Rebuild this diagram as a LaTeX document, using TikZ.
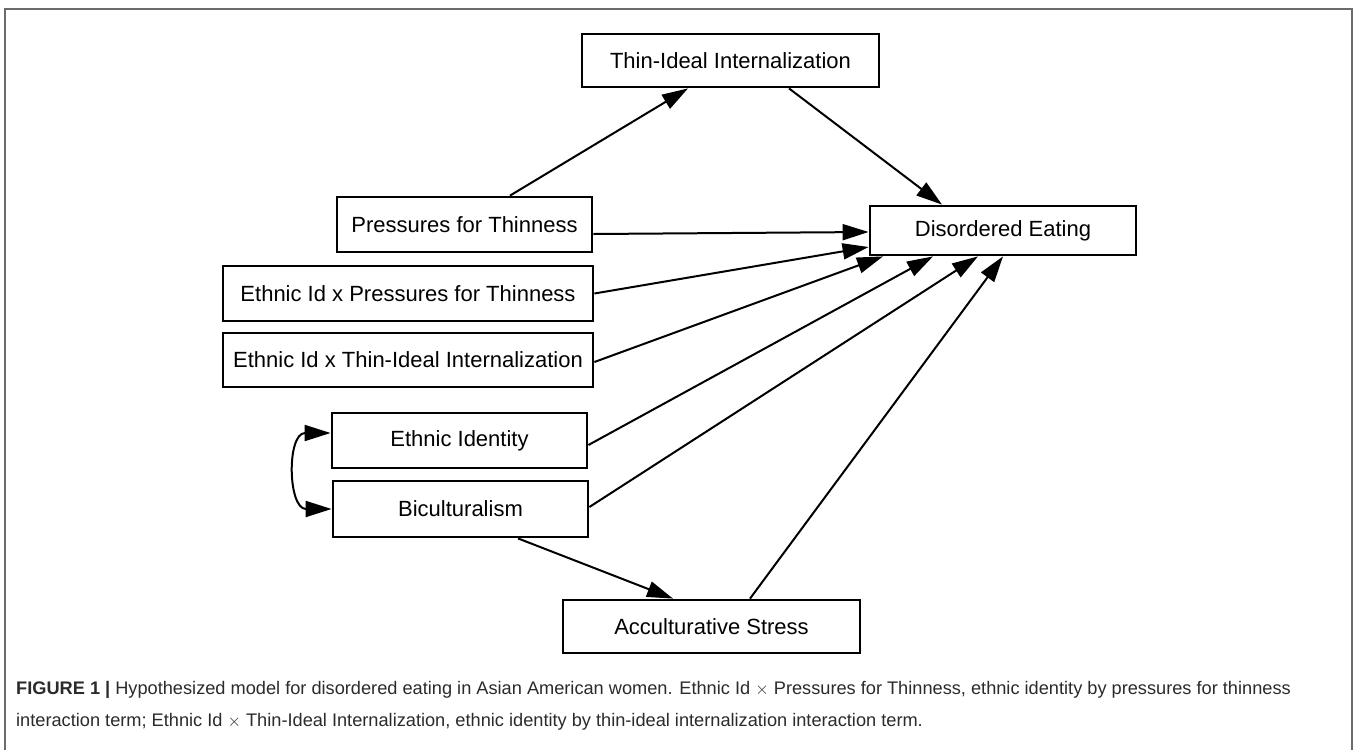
\documentclass[tikz,border=0pt]{standalone}
\usepackage{fontspec}
\setmainfont{Liberation Sans}
\usetikzlibrary{arrows.meta}
\definecolor{framegray}{HTML}{6B6B6B}
\definecolor{capgray}{HTML}{2B2B2B}
\begin{document}
\begin{tikzpicture}[x=1pt,y=-1pt,
  box/.style={draw=black, line width=2.8pt, rectangle, inner sep=0pt,
    font=\fontsize{22}{26}\selectfont, text=black},
  conn/.style={line width=2pt, draw=black, -{Triangle[length=26pt,width=16pt]}},
  dconn/.style={line width=2pt, draw=black, {Triangle[length=26pt,width=16pt]}-{Triangle[length=26pt,width=16pt]}},
  captext/.style={anchor=base west, inner sep=0pt, text=capgray,
    font=\fontsize{18.2}{21}\selectfont},
  ]
\useasboundingbox (0,0) rectangle (1357,750);
\fill[white] (0,0) rectangle (1357,750);
% outer frame (open at the bottom)
\draw[framegray, line width=2pt] (5,750) -- (5,8.5) -- (1351.5,8.5) -- (1351.5,750);

% nodes
\node[box, minimum width=297pt, minimum height=53pt] (thin) at (730.5,60.5) {Thin-Ideal Internalization};
\node[box, minimum width=266pt, minimum height=49pt] (de) at (1003,230.5) {Disordered Eating};
\node[box, minimum width=255pt, minimum height=55pt] (press) at (464.5,224.5) {Pressures for Thinness};
\node[box, minimum width=370pt, minimum height=55pt] (eipt) at (408,293.5) {Ethnic Id x Pressures for Thinness};
\node[box, minimum width=370pt, minimum height=54pt] (eitii) at (408,360) {Ethnic Id x Thin-Ideal Internalization};
\node[box, minimum width=255pt, minimum height=55pt] (eid) at (459.5,440.5) {Ethnic Identity};
\node[box, minimum width=255pt, minimum height=56pt] (bic) at (460.5,509) {Biculturalism};
\node[box, minimum width=297pt, minimum height=53pt] (acc) at (711.5,626.5) {Acculturative Stress};

% connectors
\draw[conn] ([xshift=45.5pt]press.north) -- ([xshift=-42.5pt]thin.south);
\draw[conn] ([xshift=58.5pt]thin.south) -- ([xshift=-61pt]de.north);
\draw[conn] ([yshift=-9.5pt]press.east) -- ([yshift=-1.5pt]de.west);
\draw[conn] (eipt.east) -- ([yshift=-16.5pt]de.west);
\draw[conn] ([yshift=-2pt]eitii.east) -- ([xshift=-120pt]de.south);
\draw[conn] ([yshift=-4.5pt]eid.east) -- ([xshift=-70pt]de.south);
\draw[conn] ([yshift=2pt]bic.east) -- ([xshift=-25pt]de.south);
\draw[conn] ([xshift=38.5pt]acc.north) -- (de.south);
\draw[conn] ([xshift=57.5pt]bic.south) -- ([xshift=-38.5pt]acc.north);
\draw[dconn] ([yshift=7.5pt]eid.west) .. controls +(-44,0) and +(-44,0) .. (bic.west);

% caption
\node[captext] (cap1) at (16,694) {\textbf{FIGURE 1 |} Hypothesized model for disordered eating in Asian American women. Ethnic Id $\times$ Pressures for Thinness, ethnic identity by pressures for thinness};
\node[captext] (cap2) at (16,726) {interaction term; Ethnic Id $\times$ Thin-Ideal Internalization, ethnic identity by thin-ideal internalization interaction term.};
\end{tikzpicture}
\end{document}
